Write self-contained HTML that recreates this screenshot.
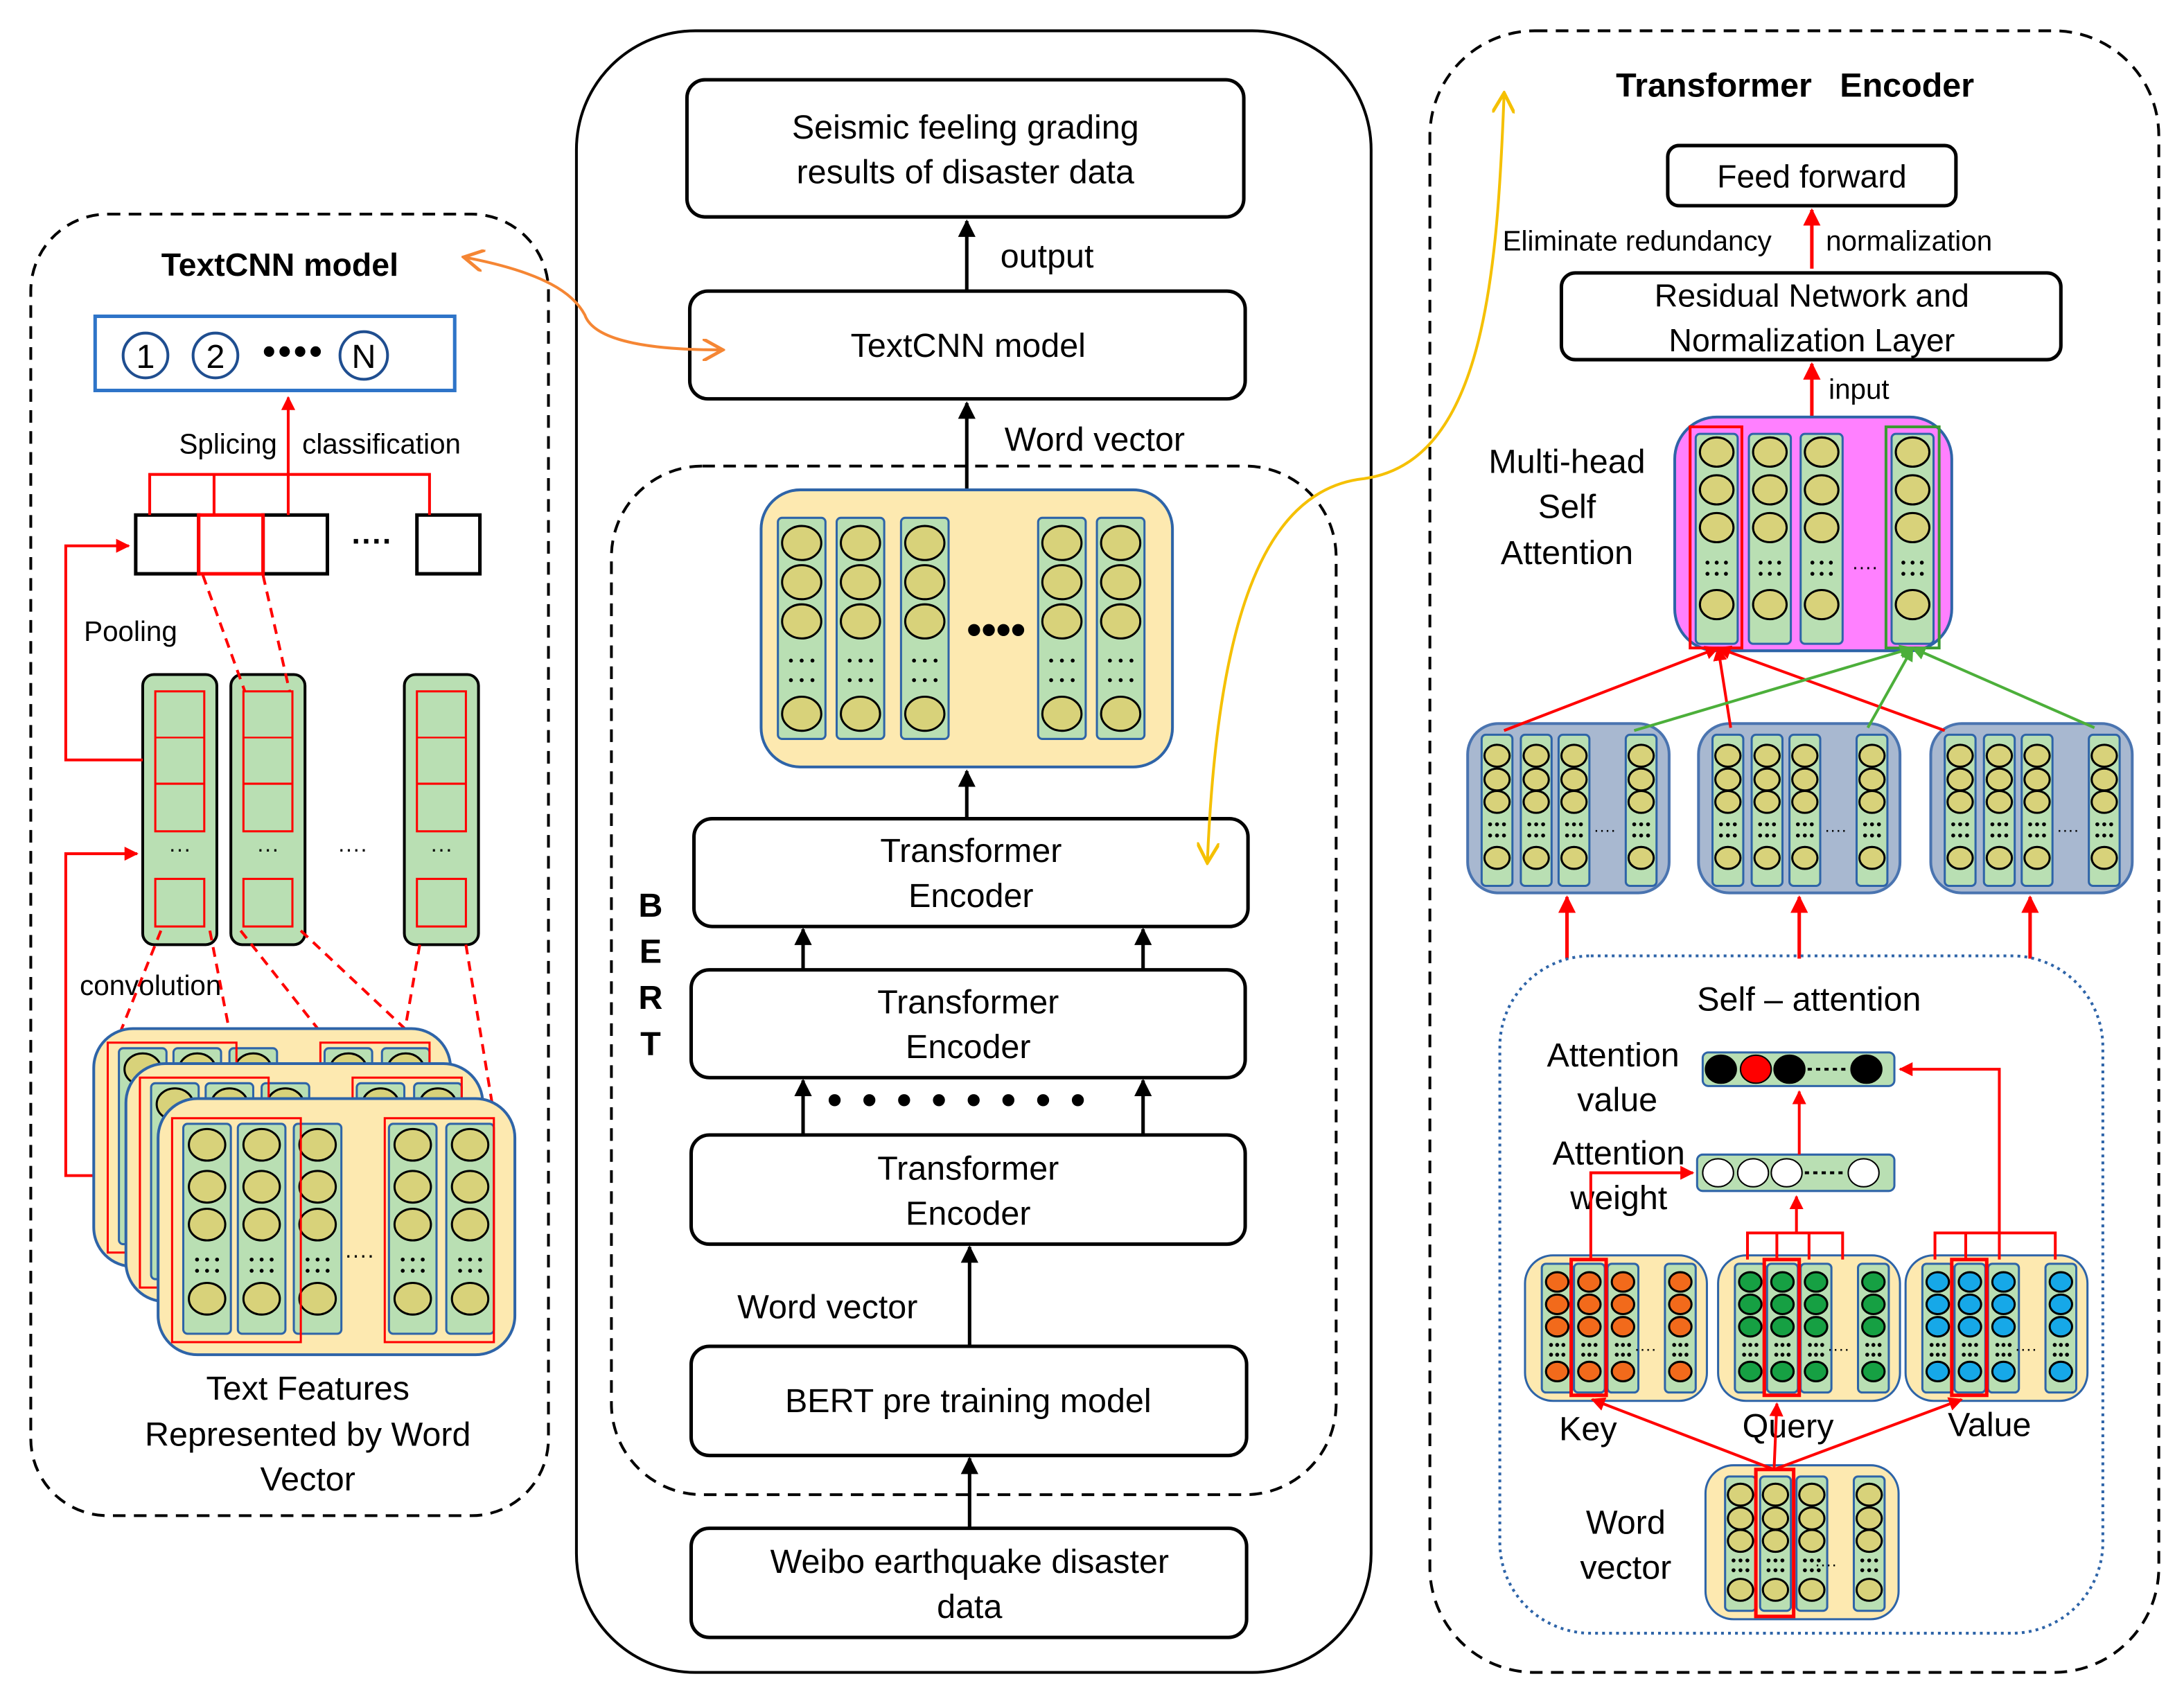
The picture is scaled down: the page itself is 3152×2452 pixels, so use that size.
<!DOCTYPE html>
<html><head><meta charset="utf-8"><style>
html,body{margin:0;padding:0;background:#fff;}
svg{display:block;}
text{font-family:"Liberation Sans",Arial,sans-serif;fill:#000;}
</style></head><body>
<svg id="s" width="3152" height="2452" viewBox="0 0 1561 1214" preserveAspectRatio="none" xmlns="http://www.w3.org/2000/svg">
<defs>
<marker id="ab" viewBox="0 0 10 10" refX="9" refY="5" markerWidth="5" markerHeight="5" orient="auto"><path d="M0,0L10,5L0,10z" fill="#000"/></marker>
<marker id="ar" viewBox="0 0 10 10" refX="9" refY="5" markerWidth="5" markerHeight="5" orient="auto"><path d="M0,0L10,5L0,10z" fill="#f00"/></marker>
<marker id="ag" viewBox="0 0 10 10" refX="9" refY="5" markerWidth="5" markerHeight="5" orient="auto"><path d="M0,0L10,5L0,10z" fill="#4caf3a"/></marker>
<marker id="ao" viewBox="0 0 10 10" refX="8" refY="5" markerWidth="8" markerHeight="8" orient="auto-start-reverse"><path d="M0,0L9,5L0,10" fill="none" stroke="#f58634" stroke-width="1.5"/></marker>
<marker id="ay" viewBox="0 0 10 10" refX="8" refY="5" markerWidth="8" markerHeight="8" orient="auto-start-reverse"><path d="M0,0L9,5L0,10" fill="none" stroke="#f5c000" stroke-width="1.5"/></marker>
</defs>
<!-- outer panels -->
<rect x="22" y="153" width="370" height="930" rx="55" fill="none" stroke="#000" stroke-width="2" stroke-dasharray="9,6"/>
<rect x="412" y="22" width="568" height="1173" rx="85" fill="none" stroke="#000" stroke-width="2"/>
<rect x="1022" y="22" width="521" height="1173" rx="75" fill="none" stroke="#000" stroke-width="2" stroke-dasharray="9,6"/>
<rect x="437" y="333" width="518" height="735" rx="65" fill="none" stroke="#000" stroke-width="2" stroke-dasharray="9,6"/>

<!-- middle column -->
<g fill="#fff" stroke="#000" stroke-width="2.5">
<rect x="491" y="57" width="398" height="98" rx="13"/>
<rect x="493" y="208" width="397" height="77" rx="13"/>
<rect x="496" y="585" width="396" height="77" rx="13"/>
<rect x="494" y="693" width="396" height="77" rx="13"/>
<rect x="494" y="811" width="396" height="78" rx="13"/>
<rect x="494" y="962" width="397" height="78" rx="13"/>
<rect x="494" y="1092" width="397" height="78" rx="13"/>
</g>
<g stroke="#000" stroke-width="2.5" marker-end="url(#ab)">
<line x1="691" y1="207" x2="691" y2="158"/>
<line x1="691" y1="350" x2="691" y2="288"/>
<line x1="691" y1="585" x2="691" y2="551"/>
<line x1="574" y1="693" x2="574" y2="664"/>
<line x1="817" y1="693" x2="817" y2="664"/>
<line x1="574" y1="811" x2="574" y2="772"/>
<line x1="817" y1="811" x2="817" y2="772"/>
<line x1="693" y1="962" x2="693" y2="891"/>
<line x1="693" y1="1092" x2="693" y2="1042"/>
</g>
<g font-size="24" text-anchor="middle">
<text x="690" y="99">Seismic feeling grading</text>
<text x="690" y="131">results of disaster data</text>
<text x="692" y="255">TextCNN model</text>
<text x="694" y="616">Transformer</text><text x="694" y="648">Encoder</text>
<text x="692" y="724">Transformer</text><text x="692" y="756">Encoder</text>
<text x="692" y="843">Transformer</text><text x="692" y="875">Encoder</text>
<text x="692" y="1009">BERT pre training model</text>
<text x="693" y="1124">Weibo earthquake disaster</text><text x="693" y="1156">data</text>
</g>
<g font-size="24">
<text x="715" y="191">output</text>
<text x="718" y="322">Word vector</text>
<text x="527" y="942">Word vector</text>
</g>
<g font-size="24" font-weight="bold" text-anchor="middle">
<text x="465" y="655">B</text><text x="465" y="688">E</text><text x="465" y="721">R</text><text x="465" y="754">T</text>
</g>
<text x="685" y="796" font-size="30" letter-spacing="3" font-weight="bold" text-anchor="middle">• • • •  • • • •</text>
<rect x="544" y="350" width="294" height="198" rx="28" fill="#fde9b0" stroke="#2e64a8" stroke-width="2"/>
<text x="712" y="460" font-size="30" font-weight="bold" text-anchor="middle">••••</text>

<!-- left panel text -->
<text x="200" y="197" font-size="23" font-weight="bold" text-anchor="middle">TextCNN model</text>
<rect x="68" y="226" width="257" height="53" fill="#fff" stroke="#2e74c8" stroke-width="2.5"/>
<g fill="#fff" stroke="#1f4e90" stroke-width="2"><circle cx="104" cy="254" r="16"/><circle cx="154" cy="254" r="16"/><circle cx="260" cy="254" r="17"/></g>
<g font-size="24" text-anchor="middle"><text x="104" y="263">1</text><text x="154" y="263">2</text><text x="260" y="263">N</text></g>
<text x="210" y="260" font-size="26" font-weight="bold" text-anchor="middle" letter-spacing="2">••••</text>
<text x="128" y="324" font-size="20">Splicing</text>
<text x="216" y="324" font-size="20">classification</text>
<text x="60" y="458" font-size="20">Pooling</text>
<text x="57" y="711" font-size="20">convolution</text>
<g font-size="24" text-anchor="middle"><text x="220" y="1000">Text Features</text><text x="220" y="1033">Represented by Word</text><text x="220" y="1065">Vector</text></g>

<!-- right panel text -->
<text x="1283" y="69" font-size="24" font-weight="bold" text-anchor="middle" xml:space="preserve">Transformer   Encoder</text>
<g fill="#fff" stroke="#000" stroke-width="2.5">
<rect x="1192" y="104" width="206" height="43" rx="8"/>
<rect x="1116" y="195" width="357" height="62" rx="10"/>
</g>
<g font-size="23" text-anchor="middle">
<text x="1295" y="134">Feed forward</text>
<text x="1295" y="219">Residual Network and</text>
<text x="1295" y="251">Normalization Layer</text>
</g>
<g font-size="20">
<text x="1074" y="179">Eliminate redundancy</text>
<text x="1305" y="179">normalization</text>
<text x="1307" y="285">input</text>
</g>
<g font-size="24" text-anchor="middle">
<text x="1120" y="338">Multi-head</text><text x="1120" y="370">Self</text><text x="1120" y="403">Attention</text>
<text x="1293" y="722">Self – attention</text>
<text x="1153" y="762">Attention</text><text x="1156" y="794">value</text>
<text x="1157" y="832">Attention</text><text x="1157" y="864">weight</text>
<text x="1135" y="1029">Key</text><text x="1278" y="1027">Query</text><text x="1422" y="1026">Value</text>
<text x="1162" y="1096">Word</text><text x="1162" y="1128">vector</text>
</g>
<g stroke="#f00" stroke-width="2.5" marker-end="url(#ar)">
<line x1="1295" y1="192" x2="1295" y2="150"/>
<line x1="1295" y1="298" x2="1295" y2="260"/>
<line x1="1120" y1="685" x2="1120" y2="641"/>
<line x1="1286" y1="685" x2="1286" y2="641"/>
<line x1="1451" y1="685" x2="1451" y2="641"/>
</g>
<rect x="1072" y="683" width="431" height="484" rx="65" fill="none" stroke="#2e64a8" stroke-width="2" stroke-dasharray="2,3"/>

<!-- curves -->
<path d="M333,184 C390,195 410,210 418,225 C425,245 470,250 515,250" fill="none" stroke="#f58634" stroke-width="2" marker-start="url(#ao)" marker-end="url(#ao)"/>
<path d="M1075,68 C1070,200 1060,330 975,342 C900,350 870,450 863,615" fill="none" stroke="#f5c000" stroke-width="2" marker-start="url(#ay)" marker-end="url(#ay)"/>
<g id="g"></g>
</svg>
<script>
const g=document.getElementById('g');let h='';
const R=(x,y,w,hh,a)=>`<rect x="${x}" y="${y}" width="${w}" height="${hh}" ${a}/>`;
function col(x,y,w,hh,cys,r,fill,dotsY,rx){
  let s=R(x,y,w,hh,`rx="${rx||3}" fill="#b9dfb3" stroke="#2e64a8" stroke-width="1.5"`);
  cys.forEach((cy,i)=>{let f=Array.isArray(fill)?fill[i]:fill;s+=`<ellipse cx="${x+w/2}" cy="${cy}" rx="${r}" ry="${r*0.87}" fill="${f}" stroke="#000" stroke-width="1.5"/>`;});
  dotsY.forEach(dy=>{for(let k=-1;k<=1;k++)s+=`<circle cx="${x+w/2+k*r*0.55}" cy="${dy}" r="1.4" fill="#000"/>`;});
  return s;
}
const Y="#d8d27a";
// BERT big columns
[556,598,644,742,784].forEach(x=>{h+=col(x,370,34,158,[388,416,444,510],14,Y,[472,486]);});
// TextCNN green columns
[[102,155],[165,218],[289,342]].forEach(([a,b])=>{
  h+=R(a,482,b-a,193,`rx="8" fill="#b9dfb3" stroke="#000" stroke-width="2"`);
  let x=a+9,w=b-a-18;
  h+=R(x,494,w,100,`fill="none" stroke="#f00" stroke-width="1.5"`);
  h+=`<line x1="${x}" y1="527" x2="${x+w}" y2="527" stroke="#f00" stroke-width="1.2"/><line x1="${x}" y1="560" x2="${x+w}" y2="560" stroke="#f00" stroke-width="1.5"/>`;
  h+=R(x,628,w,34,`fill="none" stroke="#f00" stroke-width="1.5"`);
  h+=`<text x="${(a+b)/2}" y="612" font-size="16" text-anchor="middle">···</text>`;
});
h+=`<text x="252" y="612" font-size="16" text-anchor="middle">····</text>`;
// pooled boxes
h+=R(97,368,45,42,`fill="#fff" stroke="#000" stroke-width="2.5"`)+R(188,368,46,42,`fill="#fff" stroke="#000" stroke-width="2.5"`)+R(298,368,45,42,`fill="#fff" stroke="#000" stroke-width="2.5"`)+R(142,368,46,42,`fill="#fff" stroke="#f00" stroke-width="2.5"`);
h+=`<text x="266" y="394" font-size="22" font-weight="bold" text-anchor="middle">····</text>`;
h+=`<path d="M107,368V339H307V368M153,339V368" fill="none" stroke="#f00" stroke-width="2"/>`;
h+=`<line x1="206" y1="368" x2="206" y2="284" stroke="#f00" stroke-width="2" marker-end="url(#ar)"/>`;
h+=`<path d="M102,543H47V390H92" fill="none" stroke="#f00" stroke-width="2" marker-end="url(#ar)"/>`;
h+=`<path d="M67,840H47V610H98" fill="none" stroke="#f00" stroke-width="2" marker-end="url(#ar)"/>`;
// dashed red
const dl=(a,b,c,d)=>`<line x1="${a}" y1="${b}" x2="${c}" y2="${d}" stroke="#f00" stroke-width="2" stroke-dasharray="7,5"/>`;
h+=dl(145,411,175,494)+dl(188,411,207,494);
h+=dl(115,665,85,740)+dl(150,665,165,742)+dl(172,665,235,745)+dl(215,665,300,745)+dl(300,675,280,790)+dl(333,675,352,790);
// stacked cards
[[67,735],[90,760],[113,785]].forEach(([x,y],i)=>{
  h+=R(x,y,255,i==2?183:170,`rx="28" fill="#fde9b0" stroke="#2e64a8" stroke-width="2"`);
  const cy=y+(i==2?18:14);
  [x+18,x+57,x+97,x+165,x+206].forEach((cx,j)=>{
    h+=col(cx,cy,34,i==2?150:140,i==2?[cy+15,cy+45,cy+72,cy+125]:[cy+15],13,Y,i==2?[cy+97,cy+105]:[]);
  });
  h+=R(x+10,cy-4,92,i==2?160:150,`fill="none" stroke="#f00" stroke-width="1.5"`);
  h+=R(x+162,cy-4,78,i==2?160:150,`fill="none" stroke="#f00" stroke-width="1.5"`);
});
h+=`<text x="257" y="902" font-size="16" text-anchor="middle">····</text>`;
// magenta
h+=R(1197,298,198,167,`rx="30" fill="#ff80ff" stroke="#2e64a8" stroke-width="2"`);
[1212,1250,1287,1352].forEach(x=>{h+=col(x,310,30,150,[323,350,377,432],12,Y,[402,410]);});
h+=R(1208,305,37,158,`fill="none" stroke="#f00" stroke-width="2"`)+R(1348,305,38,158,`fill="none" stroke="#3a9a30" stroke-width="2"`);
h+=`<text x="1333" y="410" font-size="14" text-anchor="middle">····</text>`;
// three heads
[1049,1214,1380].forEach(x=>{
  h+=R(x,517,144,121,`rx="22" fill="#a8b8d0" stroke="#4a74b0" stroke-width="2"`);
  [x+10,x+38,x+65,x+113].forEach(cx=>{h+=col(cx,525,22,108,[540,557,573,613],9,Y,[589,597]);});
  h+=`<text x="${x+98}" y="597" font-size="12" text-anchor="middle">····</text>`;
});
// lines to magenta
[[1075,522],[1237,520],[1390,522]].forEach(([a,b])=>h+=`<line x1="${a}" y1="${b}" x2="1228" y2="463" stroke="#f00" stroke-width="2" marker-end="url(#ar)"/>`);
[[1168,522],[1335,520],[1497,520]].forEach(([a,b])=>h+=`<line x1="${a}" y1="${b}" x2="1367" y2="463" stroke="#4caf3a" stroke-width="2" marker-end="url(#ag)"/>`);
// attention bars
h+=R(1217,752,137,24,`rx="4" fill="#b9dfb3" stroke="#2e64a8" stroke-width="1.5"`);
[[1230,"#000"],[1255,"#f00"],[1279,"#000"],[1334,"#000"]].forEach(([x,f])=>h+=`<ellipse cx="${x}" cy="764" rx="11" ry="10" fill="${f}" stroke="#000" stroke-width="1"/>`);
h+=`<line x1="1292" y1="764" x2="1322" y2="764" stroke="#000" stroke-width="2" stroke-dasharray="3,3"/>`;
h+=R(1213,825,141,26,`rx="4" fill="#b9dfb3" stroke="#2e64a8" stroke-width="1.5"`);
[1228,1253,1277,1332].forEach(x=>h+=`<ellipse cx="${x}" cy="838" rx="11" ry="10" fill="#fff" stroke="#000" stroke-width="1"/>`);
h+=`<line x1="1290" y1="838" x2="1320" y2="838" stroke="#000" stroke-width="2" stroke-dasharray="3,3"/>`;
// KQV boxes
const kqv=[[1090,"#f26a1b"],[1228,"#16a043"],[1362,"#16a8e8"]];
kqv.forEach(([x,f],i)=>{
  h+=R(x,897,130,104,`rx="20" fill="#fde9b0" stroke="#2e64a8" stroke-width="1.5"`);
  [x+12,x+35,x+59,x+100].forEach(cx=>{h+=col(cx,903,22,92,[916,932,948,980],8,f,[961,968]);});
  h+=R(x+33,900,25,97,`fill="none" stroke="#f00" stroke-width="2.5"`);
  h+=`<text x="${x+86}" y="968" font-size="12" text-anchor="middle">····</text>`;
});
// word vector box
h+=R(1219,1047,138,110,`rx="20" fill="#fde9b0" stroke="#2e64a8" stroke-width="1.5"`);
[1233,1258,1284,1325].forEach(cx=>{h+=col(cx,1055,22,96,[1068,1085,1101,1136],9,Y,[1115,1122]);});
h+=R(1255,1050,27,105,`fill="none" stroke="#f00" stroke-width="2.5"`);
h+=`<text x="1305" y="1122" font-size="12" text-anchor="middle">····</text>`;
// red lines in self attention
const rl=(d,m)=>`<path d="${d}" fill="none" stroke="#f00" stroke-width="2" ${m?'marker-end="url(#ar)"':''}/>`;
h+=rl("M1268,1050L1138,1000",1)+rl("M1268,1050L1270,1003",1)+rl("M1268,1050L1402,1000",1);
h+=rl("M1137,900V838H1210",1);
h+=rl("M1249,900V881H1317V900M1270,900V881M1293,900V881",0)+rl("M1284,881V855",1);
h+=rl("M1383,900V881H1469V900M1405,900V881M1429,900V881V764H1358",1);
h+=rl("M1286,825V780",1);
g.innerHTML=h;
</script>
</body></html>
